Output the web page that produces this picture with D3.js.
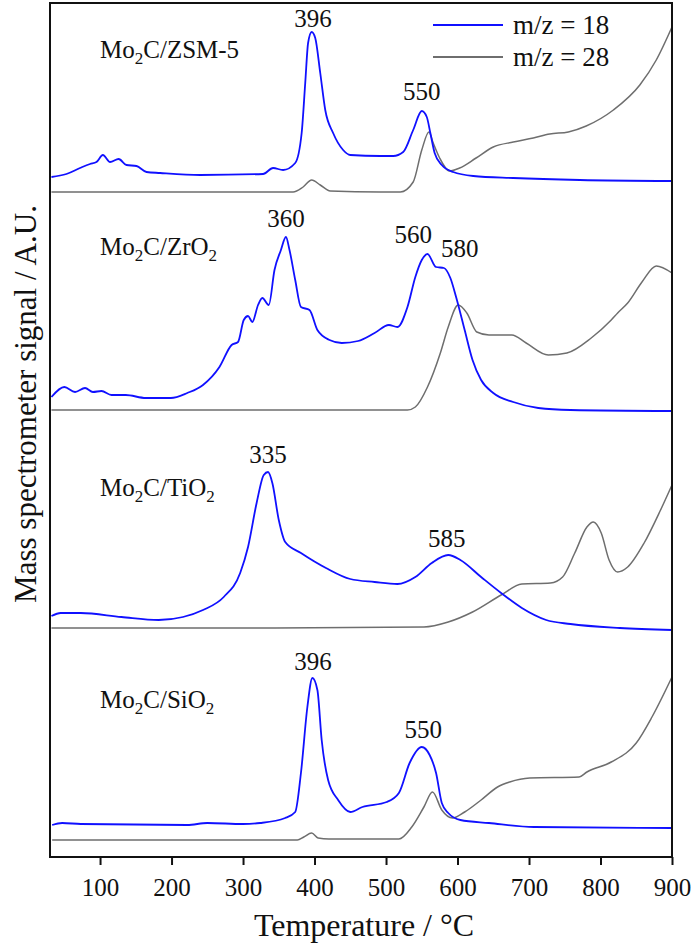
<!DOCTYPE html>
<html><head><meta charset="utf-8">
<script src="https://cdn.jsdelivr.net/npm/d3@7"></script>
<style>
html,body{margin:0;padding:0;background:#fff;}
svg text{font-family:"Liberation Serif","Times New Roman",serif;fill:#111;}
</style></head>
<body><svg id="chart" width="694" height="946"></svg>
<script>
// ---- data (temperature °C, signal A.U. with per-panel vertical offset) ----
const xTicks = [100,200,300,400,500,600,700,800,900];
const seriesNames = ["m/z = 18","m/z = 28"];
const panelNames = [["Mo","2","C/ZSM-5"],["Mo","2","C/ZrO","2"],["Mo","2","C/TiO","2"],["Mo","2","C/SiO","2"]];

const zsmBlue = [[32,680],[53,683],[72,689],[86,693],[95,695],[104,702],[114,695],[126,698],[137,692],[151,691],[165,685],[184,684],[240,682],[328,683],[342,689],[356,687],[373,694],[382,724],[387,774],[391,814],[396,825],[401,819],[408,784],[415,747],[426,724],[440,707],[450,702],[492,701],[510,701],[524,705],[538,727],[550,746],[557,740],[562,724],[568,704],[578,692],[594,685],[622,681],[678,679],[771,677],[900,676]];
const zsmGray = [[32,665],[100,665],[200,665],[300,665],[370,665],[384,670],[396,677],[408,672],[422,666],[492,665],[520,665],[538,675],[550,707],[560,725],[566,714],[575,699],[589,686],[603,689],[626,699],[650,710],[678,715],[706,719],[729,723],[755,725],[780,731],[818,747],[855,772],[878,797],[900,830]];
const zrBlue = [[32,460],[50,470],[65,465],[79,469],[90,465],[102,466],[116,462],[136,462],[164,459],[199,459],[222,464],[244,472],[267,490],[284,512],[293,515],[301,537],[307,541],[313,535],[321,552],[327,559],[336,552],[344,587],[353,607],[360,620],[365,607],[373,577],[381,550],[393,547],[404,527],[421,517],[438,514],[461,516],[484,524],[504,532],[516,530],[530,550],[541,580],[550,597],[558,603],[570,590],[581,589],[590,579],[598,560],[610,527],[621,497],[633,477],[650,464],[678,455],[713,449],[758,447],[900,446]];
const zrGray = [[32,447],[200,447],[400,447],[530,447],[541,450],[558,470],[576,504],[587,530],[601,552],[613,544],[627,525],[644,522],[676,522],[696,514],[727,502],[753,504],[787,519],[815,537],[824,544],[838,554],[858,575],[878,591],[900,584]];
const tiBlue = [[32,241],[45,244],[73,244],[130,240],[182,237],[216,240],[244,247],[273,260],[296,284],[307,310],[319,354],[329,382],[335,385],[341,374],[350,337],[359,315],[381,304],[416,289],[450,278],[484,275],[516,273],[541,280],[564,294],[587,302],[604,297],[633,280],[661,264],[690,249],[724,237],[758,233],[827,229],[900,227]];
const tiGray = [[32,229],[300,229],[553,230],[587,235],[621,245],[661,262],[690,273],[730,274],[747,280],[764,304],[781,330],[790,335],[801,324],[812,297],[824,285],[838,290],[861,314],[884,347],[900,372]];
const siBlue = [[33,32],[47,34],[73,33],[222,32],[250,34],[300,33],[324,34],[359,39],[373,45],[381,84],[390,150],[397,179],[404,167],[410,117],[419,77],[433,57],[450,45],[467,50],[501,55],[518,64],[533,94],[550,110],[561,102],[570,84],[578,54],[587,44],[604,37],[644,34],[707,30],[900,29]];
const siGray = [[33,17],[376,17],[385,20],[396,24],[405,19],[420,18],[518,18],[536,30],[553,50],[565,65],[578,47],[593,39],[610,45],[633,57],[656,70],[673,75],[701,79],[770,80],[781,85],[815,95],[850,114],[872,140],[900,180]];

// peak annotations: [temperature, signal-level of label baseline, text]
const peakLabels = [[398,830,"396"],[550,757,"550"],[360,630,"360"],[538,614,"560"],[603,600,"580"],[335,394,"335"],[585,310,"585"],[398,187,"396"],[552,119,"550"]];
// panel label anchor: [temperature, signal-level]
const panelPos = [[100,799],[100,602],[100,361],[100,149]];

// ---- layout ----
const W=694,H=946, m={l:50,r:22,t:3,b:89};
const FONT='"Liberation Serif","Times New Roman",serif';
const svg=d3.select("#chart");
const x=d3.scaleLinear().domain([30,900]).range([m.l,W-m.r]);
const y=d3.scaleLinear().domain([0,854]).range([H-m.b,m.t]);
const colors={blue:"#1010ff",gray:"#6e6e6e"};

const line=d3.line().x(d=>x(d[0])).y(d=>y(d[1])).curve(d3.curveMonotoneX);

const series=[[zsmGray,"gray"],[zrGray,"gray"],[tiGray,"gray"],[siGray,"gray"],[zsmBlue,"blue"],[zrBlue,"blue"],[tiBlue,"blue"],[siBlue,"blue"]];
svg.append("g").selectAll("path").data(series).join("path")
  .attr("d",d=>line(d[0])).attr("fill","none")
  .attr("stroke",d=>colors[d[1]]).attr("stroke-width",d=>d[1]==="blue"?1.8:1.5)
  .attr("stroke-linejoin","round");

// frame
svg.append("rect").attr("x",m.l).attr("y",m.t).attr("width",W-m.r-m.l).attr("height",H-m.b-m.t)
  .attr("fill","none").attr("stroke","#111").attr("stroke-width",2);

// x axis
const ax=svg.append("g").attr("transform",`translate(0,${H-m.b})`)
  .call(d3.axisBottom(x).tickValues(xTicks).tickSize(8).tickPadding(13).tickFormat(d3.format("d")));
ax.attr("font-family",null).attr("font-size",null);
ax.select(".domain").remove();
ax.selectAll(".tick line").attr("stroke","#111").attr("stroke-width",2);
ax.selectAll(".tick text").style("font-size","25px").style("font-family",FONT).attr("fill","#111");

svg.append("text").attr("x",364).attr("y",936).attr("text-anchor","middle")
  .style("font-size","32px").style("font-family",FONT).text("Temperature / °C");
svg.append("text").attr("transform",`translate(36,404) rotate(-90)`).attr("text-anchor","middle")
  .style("font-size","31px").style("font-family",FONT).text("Mass spectrometer signal / A.U.");

// peak labels
svg.append("g").selectAll("text").data(peakLabels).join("text")
  .attr("x",d=>x(d[0])).attr("y",d=>y(d[1])).attr("text-anchor","middle")
  .style("font-size","25px").style("font-family",FONT).text(d=>d[2]);

// panel labels
panelNames.forEach((parts,i)=>{
  const t=svg.append("text").attr("x",x(panelPos[i][0])).attr("y",y(panelPos[i][1]))
    .style("font-size","25px").style("font-family",FONT);
  parts.forEach((p,j)=>{
    const sub=(j%2===1);
    t.append("tspan").style("font-size",sub?"17px":"25px").attr("dy",sub?6:(j>0?-6:0)).text(p);
  });
});

// legend
const leg=svg.append("g");
seriesNames.forEach((n,i)=>{
  const yy=25+i*32;
  leg.append("line").attr("x1",433).attr("x2",503).attr("y1",yy).attr("y2",yy)
    .attr("stroke",i===0?colors.blue:colors.gray).attr("stroke-width",1.8);
  leg.append("text").attr("x",513).attr("y",yy+9).style("font-size","27px").style("font-family",FONT).text(n);
});
</script></body></html>
